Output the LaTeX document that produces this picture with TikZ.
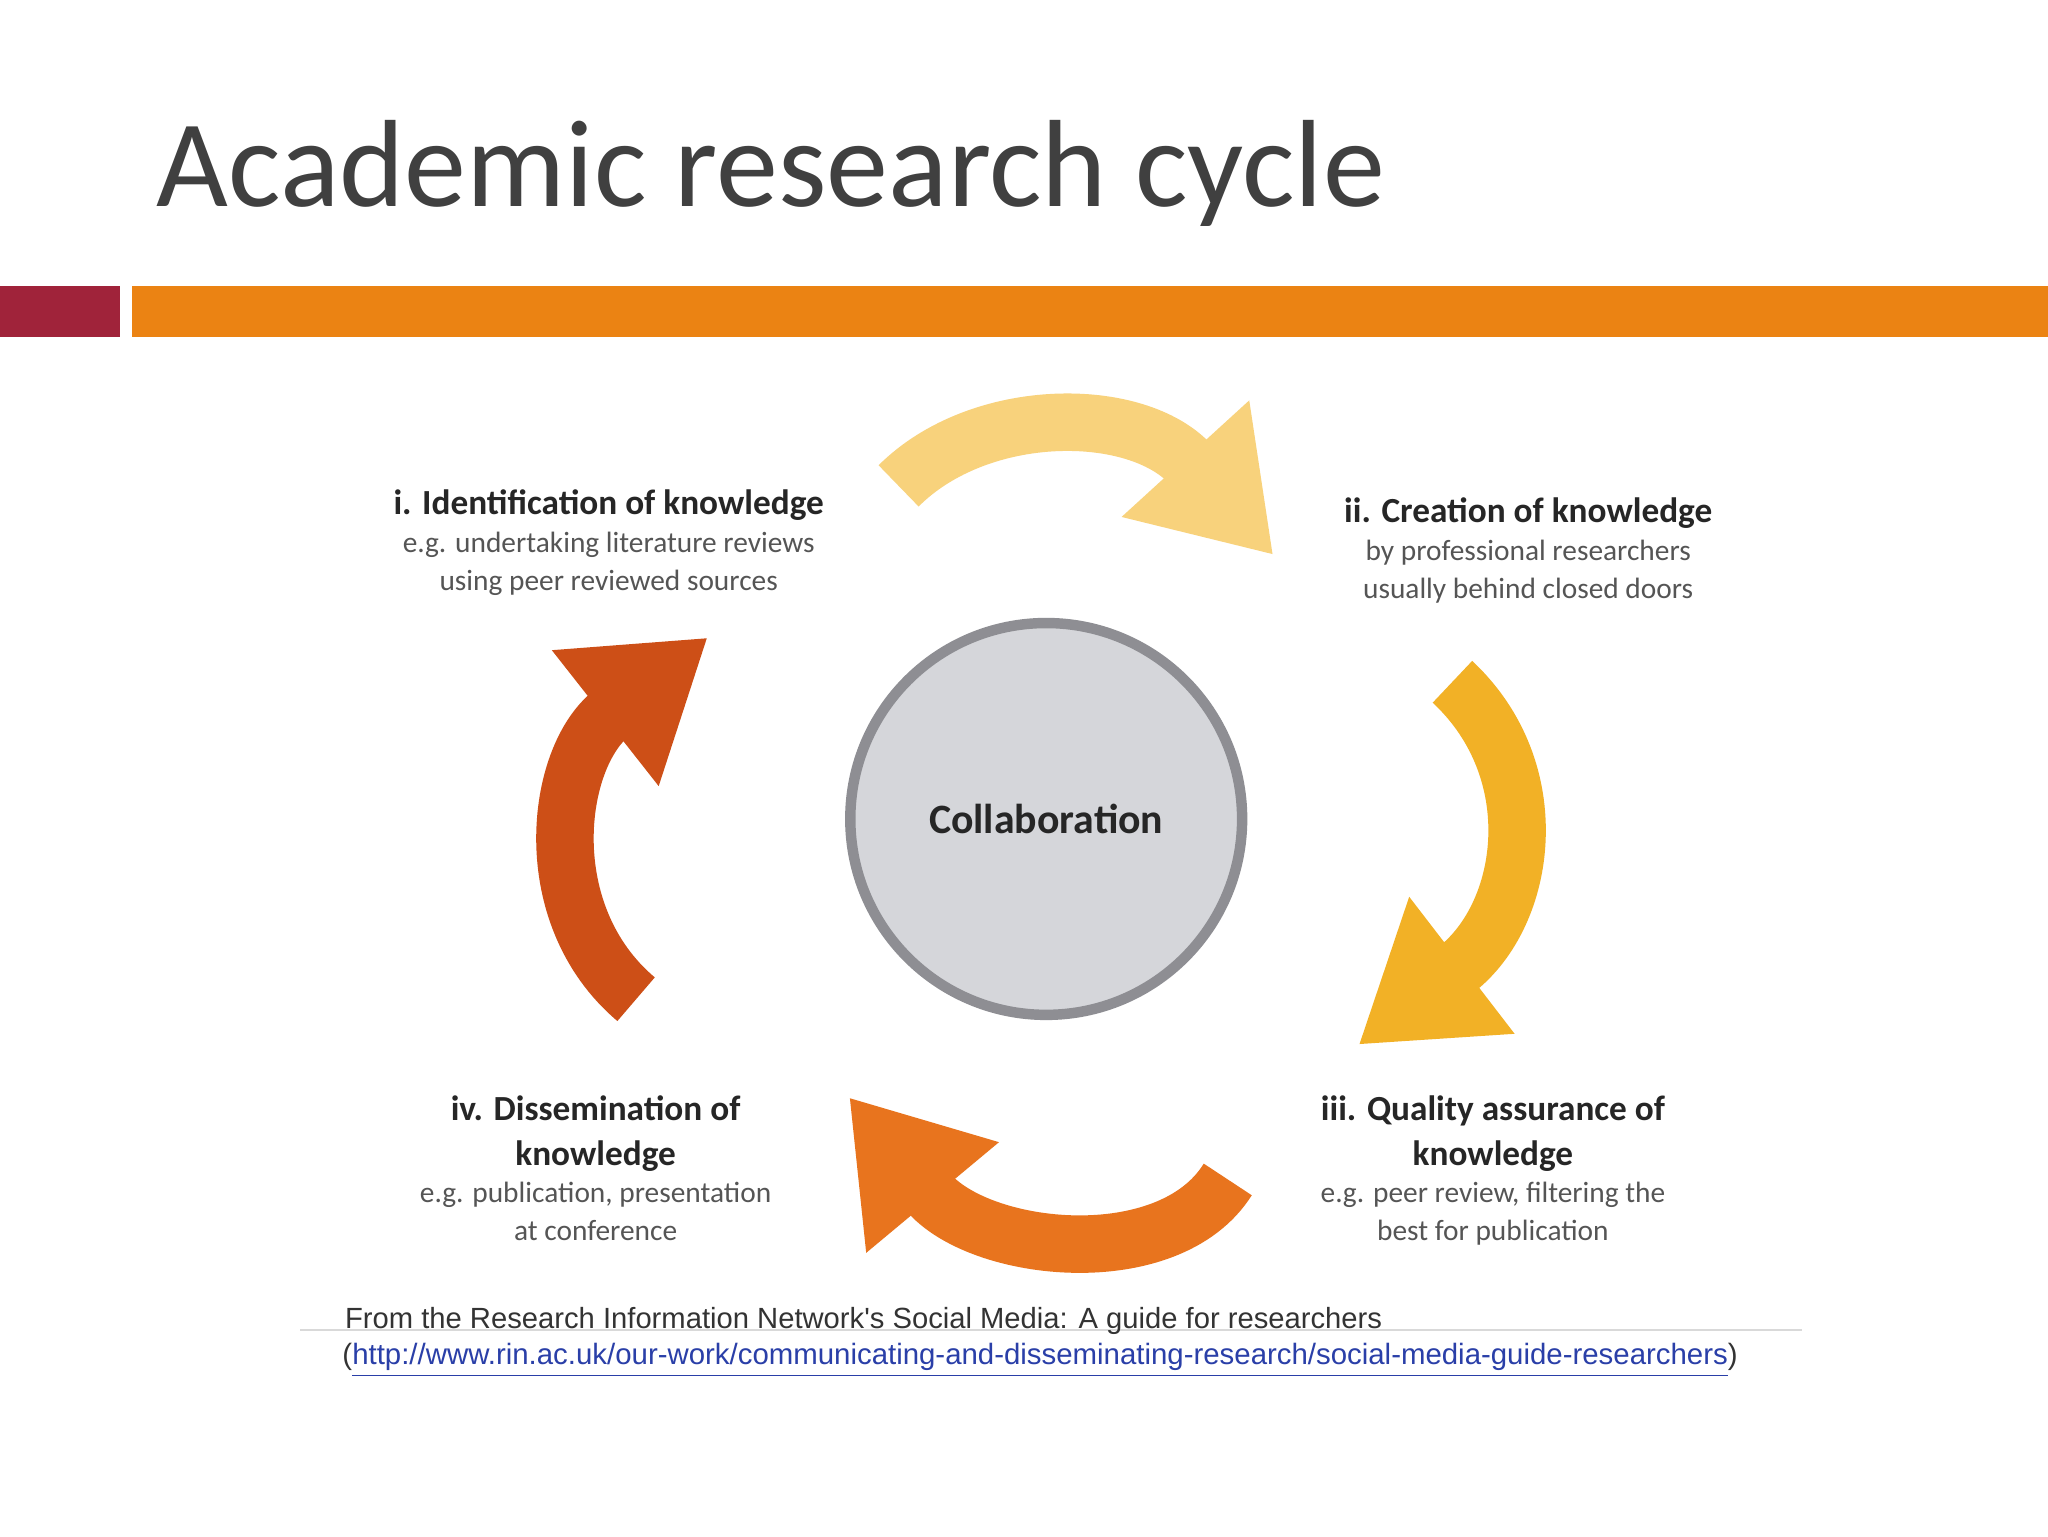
\documentclass[tikz,border=0pt]{standalone}
\usepackage{fontspec}
\setmainfont{Carlito}
\newfontfamily\arialf{Liberation Sans}
\usetikzlibrary{arrows.meta}
\definecolor{titlegray}{HTML}{404040}
\definecolor{barred}{HTML}{A0233A}
\definecolor{barorange}{HTML}{EB8313}
\definecolor{circfill}{HTML}{D5D6DA}
\definecolor{circline}{HTML}{8E8E93}
\definecolor{aone}{HTML}{F8D27C}
\definecolor{atwo}{HTML}{F2B126}
\definecolor{athree}{HTML}{E8741E}
\definecolor{afour}{HTML}{CD4F17}
\definecolor{txtgray}{HTML}{555555}
\definecolor{linkblue}{HTML}{2A3FA8}
\tikzset{
  cyc/.style={line width=44pt, -{Triangle[width=125pt,length=100pt]}},
  head/.style={font=\fontsize{27}{32}\selectfont\bfseries, text=black!85, align=center, inner sep=0},
  sub/.style={font=\fontsize{22.5}{29}\selectfont, text=txtgray, align=center, inner sep=0},
}
\begin{document}
\begin{tikzpicture}[x=1pt,y=-1pt]
\useasboundingbox (0,0) rectangle (1568,1176);
\fill[white] (0,0) rectangle (1568,1176);
\node[anchor=base west, inner sep=0, text=titlegray, font=\fontsize{95}{105}\selectfont] (title) at (120,158) {Academic research cycle};
\fill[barred] (0,219) rectangle (92,258);
\fill[barorange] (101,219) rectangle (1568,258);
% arrows
\coordinate (t1) at (688,372); \coordinate (h1) at (975,425);
\coordinate (t2) at (1112,522); \coordinate (h2) at (1040,800);
\coordinate (t3) at (940,903); \coordinate (h3) at (650,840);
\coordinate (t4) at (487,765); \coordinate (h4) at (542,488);
\draw[cyc, aone] (t1) .. controls (750,310) and (870,310) .. (h1);
\draw[cyc, atwo] (t2) .. controls (1185,590) and (1170,700) .. (h2);
\draw[cyc, athree] (t3) .. controls (895,975) and (750,960) .. (h3);
\draw[cyc, afour] (t4) .. controls (410,700) and (425,580) .. (h4);
% circle
\node[circle, minimum size=300pt, fill=circfill, draw=circline, line width=8pt] (collab) at (801,627) {};
\node[font=\fontsize{32}{36}\selectfont\bfseries, text=black!85] (clab) at (collab) {Collaboration};
% texts
\node[head, anchor=base] (i1) at (466,394) {i. Identification of knowledge};
\node[sub, anchor=base] (i2) at (466,423) {e.g. undertaking literature reviews};
\node[sub, anchor=base] (i3) at (466,452) {using peer reviewed sources};
\node[head, anchor=base] (ii1) at (1170,400) {ii. Creation of knowledge};
\node[sub, anchor=base] (ii2) at (1170,429) {by professional researchers};
\node[sub, anchor=base] (ii3) at (1170,458) {usually behind closed doors};
\node[head, anchor=base] (iii1) at (1143,858) {iii. Quality assurance of};
\node[head, anchor=base] (iii2) at (1143,892) {knowledge};
\node[sub, anchor=base] (iii3) at (1143,921) {e.g. peer review, filtering the};
\node[sub, anchor=base] (iii4) at (1143,950) {best for publication};
\node[head, anchor=base] (iv1) at (456,858) {iv. Dissemination of};
\node[head, anchor=base] (iv2) at (456,892) {knowledge};
\node[sub, anchor=base] (iv3) at (456,921) {e.g. publication, presentation};
\node[sub, anchor=base] (iv4) at (456,950) {at conference};
% footer
\draw[black!15, line width=1.5pt] (230,1018) -- (1380,1018);
\node[anchor=base west, inner sep=0, text=black!80] (src) at (264,1017) {\resizebox{794pt}{!}{\arialf From the Research Information Network's Social Media: A guide for researchers}};
\node[anchor=base west, inner sep=0, text=black!80] (url) at (262,1045) {\resizebox{1068pt}{!}{\arialf (\textcolor{linkblue}{\underline{http://www.rin.ac.uk/our-work/communicating-and-disseminating-research/social-media-guide-researchers}})}};
\end{tikzpicture}
\end{document}
